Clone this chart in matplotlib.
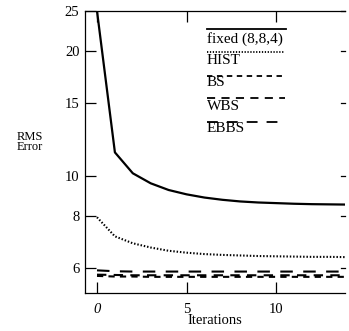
import matplotlib
matplotlib.use("Agg")
import matplotlib.pyplot as plt
from matplotlib.ticker import FixedLocator, NullLocator, FixedFormatter

plt.rcParams["font.family"] = ["Liberation Serif", "DejaVu Serif"]

# data
iterations = list(range(15))
fixed_884 = [25.0, 11.4, 10.15, 9.6, 9.25, 9.03, 8.87, 8.76, 8.68, 8.63, 8.60, 8.57, 8.55, 8.54, 8.53]
hist = [7.95, 7.15, 6.88, 6.72, 6.60, 6.53, 6.48, 6.45, 6.43, 6.41, 6.40, 6.39, 6.38, 6.38, 6.37]
bs = [5.74, 5.72, 5.72, 5.71, 5.71, 5.71, 5.71, 5.71, 5.71, 5.71, 5.71, 5.71, 5.71, 5.71, 5.71]
wbs = [5.78, 5.77, 5.76, 5.76, 5.76, 5.76, 5.76, 5.76, 5.76, 5.76, 5.76, 5.76, 5.76, 5.76, 5.76]
ebbs = [5.92, 5.89, 5.88, 5.88, 5.88, 5.88, 5.88, 5.88, 5.88, 5.88, 5.88, 5.88, 5.88, 5.88, 5.88]

series = [
    ("fixed (8,8,4)", fixed_884, "-"),
    ("HIST", hist, (0, (0.7, 0.9))),
    ("BS", bs, (0, (3.0, 2.5))),
    ("WBS", wbs, (0, (4.5, 3.5))),
    ("EBBS", ebbs, (0, (6.0, 5.0))),
]
yticks = [6, 8, 10, 15, 20, 25]
xticks = [0, 5, 10]

fig = plt.figure(figsize=(3.49, 3.31), dpi=100)
ax = fig.add_axes([85 / 349, 38 / 331, 260 / 349, 282 / 331])

for label, vals, ls in series:
    ax.plot(iterations, vals, color="black", linestyle=ls,
            linewidth=1.6 if ls == "-" else 1.5)

ax.set_yscale("log")
ax.set_ylim(5.22, 25.0)
ax.set_xlim(-0.67, 13.85)
ax.yaxis.set_major_locator(FixedLocator(yticks))
ax.yaxis.set_major_formatter(FixedFormatter([str(t) for t in yticks]))
ax.yaxis.set_minor_locator(NullLocator())
ax.set_xticks(xticks)
ax.set_xticklabels([str(t) for t in xticks])
ax.get_xticklabels()[0].set_fontstyle("italic")

ax.spines["right"].set_visible(False)
for s in ("left", "top", "bottom"):
    ax.spines[s].set_linewidth(0.9)
ax.tick_params(axis="both", which="major", direction="in", labelsize=10.5,
               length=8, width=0.9, top=True, right=False)
ax.tick_params(axis="y", pad=4)
ax.tick_params(axis="x", pad=7)
# short ticks on the right side
for t in yticks:
    ax.plot([0.985, 1.0], [t, t], color="black", linewidth=0.9,
            transform=ax.get_yaxis_transform(), clip_on=False)

ax.set_xlabel("Iterations", fontsize=10.5, labelpad=-1)
fig.text(30 / 349, 1 - 142 / 331, "RMS\nError", fontsize=9, ha="center",
         va="center", linespacing=0.8)

# old-style legend: sample line above each label
line_y = [0.935, 0.856, 0.770, 0.690, 0.607]
text_y = [0.901, 0.823, 0.745, 0.661, 0.582]
line_x1 = [0.773, 0.769, 0.762, 0.769, 0.742]
for (label, vals, ls), ly, ty, x1 in zip(series, line_y, text_y, line_x1):
    ax.plot([0.469, x1], [ly, ly], color="black", linestyle=ls,
            linewidth=1.3, transform=ax.transAxes)
    ax.text(0.469, ty, label, transform=ax.transAxes, fontsize=11,
            ha="left", va="center")

fig.savefig("out.png", dpi=100)
